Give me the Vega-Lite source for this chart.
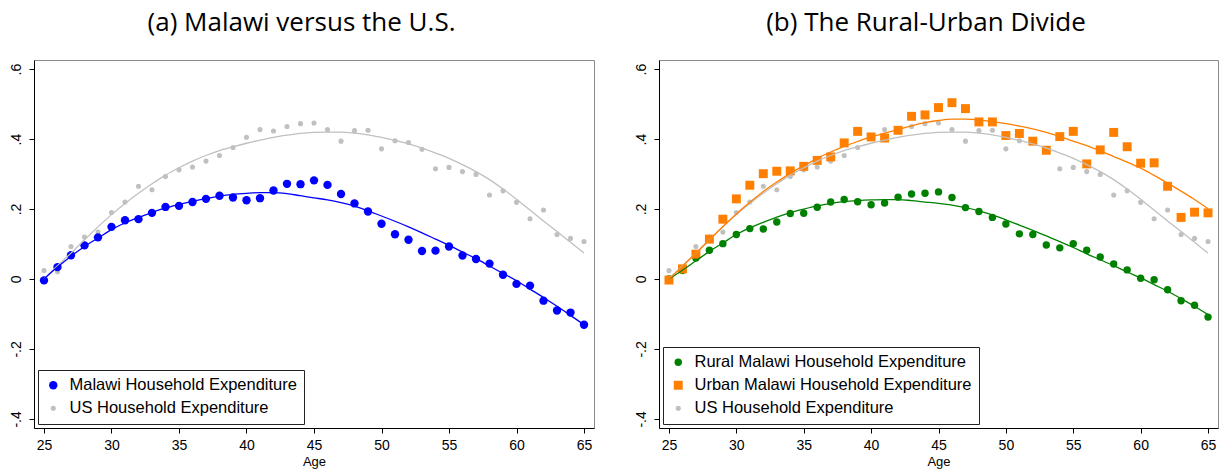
{
  "$schema": "https://vega.github.io/schema/vega-lite/v6.json",
  "description": "Age profiles of household expenditure: Malawi versus the U.S., and rural versus urban Malawi.",
  "background": "white",
  "padding": {"left": 8, "top": 9, "right": 5, "bottom": 2},
  "spacing": 38,
  "datasets": {
    "points": [
      {"age": 25, "series": "US", "value": 0.024}, {"age": 26, "series": "US", "value": 0.021}, {"age": 27, "series": "US", "value": 0.093},
      {"age": 28, "series": "US", "value": 0.12}, {"age": 29, "series": "US", "value": 0.134}, {"age": 30, "series": "US", "value": 0.19},
      {"age": 31, "series": "US", "value": 0.22}, {"age": 32, "series": "US", "value": 0.265}, {"age": 33, "series": "US", "value": 0.255},
      {"age": 34, "series": "US", "value": 0.293}, {"age": 35, "series": "US", "value": 0.312}, {"age": 36, "series": "US", "value": 0.32},
      {"age": 37, "series": "US", "value": 0.337}, {"age": 38, "series": "US", "value": 0.353}, {"age": 39, "series": "US", "value": 0.376},
      {"age": 40, "series": "US", "value": 0.405}, {"age": 41, "series": "US", "value": 0.427}, {"age": 42, "series": "US", "value": 0.423},
      {"age": 43, "series": "US", "value": 0.436}, {"age": 44, "series": "US", "value": 0.444}, {"age": 45, "series": "US", "value": 0.446},
      {"age": 46, "series": "US", "value": 0.427}, {"age": 47, "series": "US", "value": 0.394}, {"age": 48, "series": "US", "value": 0.424},
      {"age": 49, "series": "US", "value": 0.425}, {"age": 50, "series": "US", "value": 0.372}, {"age": 51, "series": "US", "value": 0.395},
      {"age": 52, "series": "US", "value": 0.39}, {"age": 53, "series": "US", "value": 0.371}, {"age": 54, "series": "US", "value": 0.315},
      {"age": 55, "series": "US", "value": 0.319}, {"age": 56, "series": "US", "value": 0.307}, {"age": 57, "series": "US", "value": 0.299},
      {"age": 58, "series": "US", "value": 0.24}, {"age": 59, "series": "US", "value": 0.252}, {"age": 60, "series": "US", "value": 0.219},
      {"age": 61, "series": "US", "value": 0.172}, {"age": 62, "series": "US", "value": 0.197}, {"age": 63, "series": "US", "value": 0.127},
      {"age": 64, "series": "US", "value": 0.116}, {"age": 65, "series": "US", "value": 0.107},

      {"age": 25, "series": "Malawi", "value": -0.004}, {"age": 26, "series": "Malawi", "value": 0.034}, {"age": 27, "series": "Malawi", "value": 0.068},
      {"age": 28, "series": "Malawi", "value": 0.096}, {"age": 29, "series": "Malawi", "value": 0.119}, {"age": 30, "series": "Malawi", "value": 0.149},
      {"age": 31, "series": "Malawi", "value": 0.168}, {"age": 32, "series": "Malawi", "value": 0.171}, {"age": 33, "series": "Malawi", "value": 0.189},
      {"age": 34, "series": "Malawi", "value": 0.206}, {"age": 35, "series": "Malawi", "value": 0.209}, {"age": 36, "series": "Malawi", "value": 0.22},
      {"age": 37, "series": "Malawi", "value": 0.229}, {"age": 38, "series": "Malawi", "value": 0.238}, {"age": 39, "series": "Malawi", "value": 0.233},
      {"age": 40, "series": "Malawi", "value": 0.225}, {"age": 41, "series": "Malawi", "value": 0.231}, {"age": 42, "series": "Malawi", "value": 0.253},
      {"age": 43, "series": "Malawi", "value": 0.272}, {"age": 44, "series": "Malawi", "value": 0.271}, {"age": 45, "series": "Malawi", "value": 0.282},
      {"age": 46, "series": "Malawi", "value": 0.269}, {"age": 47, "series": "Malawi", "value": 0.243}, {"age": 48, "series": "Malawi", "value": 0.216},
      {"age": 49, "series": "Malawi", "value": 0.193}, {"age": 50, "series": "Malawi", "value": 0.158}, {"age": 51, "series": "Malawi", "value": 0.128},
      {"age": 52, "series": "Malawi", "value": 0.112}, {"age": 53, "series": "Malawi", "value": 0.08}, {"age": 54, "series": "Malawi", "value": 0.081},
      {"age": 55, "series": "Malawi", "value": 0.093}, {"age": 56, "series": "Malawi", "value": 0.067}, {"age": 57, "series": "Malawi", "value": 0.057},
      {"age": 58, "series": "Malawi", "value": 0.044}, {"age": 59, "series": "Malawi", "value": 0.012}, {"age": 60, "series": "Malawi", "value": -0.014},
      {"age": 61, "series": "Malawi", "value": -0.019}, {"age": 62, "series": "Malawi", "value": -0.062}, {"age": 63, "series": "Malawi", "value": -0.09},
      {"age": 64, "series": "Malawi", "value": -0.096}, {"age": 65, "series": "Malawi", "value": -0.131},

      {"age": 25, "series": "Rural", "value": 0.0}, {"age": 26, "series": "Rural", "value": 0.025}, {"age": 27, "series": "Rural", "value": 0.06},
      {"age": 28, "series": "Rural", "value": 0.082}, {"age": 29, "series": "Rural", "value": 0.101}, {"age": 30, "series": "Rural", "value": 0.127},
      {"age": 31, "series": "Rural", "value": 0.144}, {"age": 32, "series": "Rural", "value": 0.143}, {"age": 33, "series": "Rural", "value": 0.163},
      {"age": 34, "series": "Rural", "value": 0.187}, {"age": 35, "series": "Rural", "value": 0.188}, {"age": 36, "series": "Rural", "value": 0.205},
      {"age": 37, "series": "Rural", "value": 0.22}, {"age": 38, "series": "Rural", "value": 0.227}, {"age": 39, "series": "Rural", "value": 0.221},
      {"age": 40, "series": "Rural", "value": 0.212}, {"age": 41, "series": "Rural", "value": 0.217}, {"age": 42, "series": "Rural", "value": 0.234},
      {"age": 43, "series": "Rural", "value": 0.243}, {"age": 44, "series": "Rural", "value": 0.245}, {"age": 45, "series": "Rural", "value": 0.249},
      {"age": 46, "series": "Rural", "value": 0.233}, {"age": 47, "series": "Rural", "value": 0.204}, {"age": 48, "series": "Rural", "value": 0.193},
      {"age": 49, "series": "Rural", "value": 0.176}, {"age": 50, "series": "Rural", "value": 0.157}, {"age": 51, "series": "Rural", "value": 0.129},
      {"age": 52, "series": "Rural", "value": 0.127}, {"age": 53, "series": "Rural", "value": 0.097}, {"age": 54, "series": "Rural", "value": 0.089},
      {"age": 55, "series": "Rural", "value": 0.101}, {"age": 56, "series": "Rural", "value": 0.082}, {"age": 57, "series": "Rural", "value": 0.063},
      {"age": 58, "series": "Rural", "value": 0.043}, {"age": 59, "series": "Rural", "value": 0.026}, {"age": 60, "series": "Rural", "value": 0.002},
      {"age": 61, "series": "Rural", "value": -0.002}, {"age": 62, "series": "Rural", "value": -0.031}, {"age": 63, "series": "Rural", "value": -0.062},
      {"age": 64, "series": "Rural", "value": -0.075}, {"age": 65, "series": "Rural", "value": -0.109},

      {"age": 25, "series": "Urban", "value": -0.003}, {"age": 26, "series": "Urban", "value": 0.029}, {"age": 27, "series": "Urban", "value": 0.071},
      {"age": 28, "series": "Urban", "value": 0.114}, {"age": 29, "series": "Urban", "value": 0.171}, {"age": 30, "series": "Urban", "value": 0.229},
      {"age": 31, "series": "Urban", "value": 0.268}, {"age": 32, "series": "Urban", "value": 0.301}, {"age": 33, "series": "Urban", "value": 0.308},
      {"age": 34, "series": "Urban", "value": 0.309}, {"age": 35, "series": "Urban", "value": 0.322}, {"age": 36, "series": "Urban", "value": 0.339},
      {"age": 37, "series": "Urban", "value": 0.349}, {"age": 38, "series": "Urban", "value": 0.389}, {"age": 39, "series": "Urban", "value": 0.422},
      {"age": 40, "series": "Urban", "value": 0.406}, {"age": 41, "series": "Urban", "value": 0.403}, {"age": 42, "series": "Urban", "value": 0.425},
      {"age": 43, "series": "Urban", "value": 0.465}, {"age": 44, "series": "Urban", "value": 0.469}, {"age": 45, "series": "Urban", "value": 0.49},
      {"age": 46, "series": "Urban", "value": 0.504}, {"age": 47, "series": "Urban", "value": 0.487}, {"age": 48, "series": "Urban", "value": 0.449},
      {"age": 49, "series": "Urban", "value": 0.449}, {"age": 50, "series": "Urban", "value": 0.41}, {"age": 51, "series": "Urban", "value": 0.416},
      {"age": 52, "series": "Urban", "value": 0.394}, {"age": 53, "series": "Urban", "value": 0.368}, {"age": 54, "series": "Urban", "value": 0.407},
      {"age": 55, "series": "Urban", "value": 0.422}, {"age": 56, "series": "Urban", "value": 0.329}, {"age": 57, "series": "Urban", "value": 0.369},
      {"age": 58, "series": "Urban", "value": 0.419}, {"age": 59, "series": "Urban", "value": 0.378}, {"age": 60, "series": "Urban", "value": 0.331},
      {"age": 61, "series": "Urban", "value": 0.332}, {"age": 62, "series": "Urban", "value": 0.265}, {"age": 63, "series": "Urban", "value": 0.176},
      {"age": 64, "series": "Urban", "value": 0.191}, {"age": 65, "series": "Urban", "value": 0.189}
    ],
    "fits": [
      {"age": 25, "series": "US", "value": 0.0}, {"age": 26, "series": "US", "value": 0.038}, {"age": 27, "series": "US", "value": 0.074},
      {"age": 28, "series": "US", "value": 0.112}, {"age": 29, "series": "US", "value": 0.149}, {"age": 30, "series": "US", "value": 0.184},
      {"age": 31, "series": "US", "value": 0.216}, {"age": 32, "series": "US", "value": 0.245}, {"age": 33, "series": "US", "value": 0.272},
      {"age": 34, "series": "US", "value": 0.297}, {"age": 35, "series": "US", "value": 0.318}, {"age": 36, "series": "US", "value": 0.337},
      {"age": 37, "series": "US", "value": 0.353}, {"age": 38, "series": "US", "value": 0.367}, {"age": 39, "series": "US", "value": 0.378},
      {"age": 40, "series": "US", "value": 0.388}, {"age": 41, "series": "US", "value": 0.397}, {"age": 42, "series": "US", "value": 0.405},
      {"age": 43, "series": "US", "value": 0.411}, {"age": 44, "series": "US", "value": 0.416}, {"age": 45, "series": "US", "value": 0.419},
      {"age": 46, "series": "US", "value": 0.42}, {"age": 47, "series": "US", "value": 0.42}, {"age": 48, "series": "US", "value": 0.417},
      {"age": 49, "series": "US", "value": 0.412}, {"age": 50, "series": "US", "value": 0.405}, {"age": 51, "series": "US", "value": 0.396},
      {"age": 52, "series": "US", "value": 0.386}, {"age": 53, "series": "US", "value": 0.374}, {"age": 54, "series": "US", "value": 0.36},
      {"age": 55, "series": "US", "value": 0.345}, {"age": 56, "series": "US", "value": 0.327}, {"age": 57, "series": "US", "value": 0.307},
      {"age": 58, "series": "US", "value": 0.284}, {"age": 59, "series": "US", "value": 0.257}, {"age": 60, "series": "US", "value": 0.228},
      {"age": 61, "series": "US", "value": 0.197}, {"age": 62, "series": "US", "value": 0.166}, {"age": 63, "series": "US", "value": 0.136},
      {"age": 64, "series": "US", "value": 0.105}, {"age": 65, "series": "US", "value": 0.074},

      {"age": 25, "series": "Malawi", "value": 0.0}, {"age": 26, "series": "Malawi", "value": 0.034}, {"age": 27, "series": "Malawi", "value": 0.065},
      {"age": 28, "series": "Malawi", "value": 0.093}, {"age": 29, "series": "Malawi", "value": 0.117}, {"age": 30, "series": "Malawi", "value": 0.141},
      {"age": 31, "series": "Malawi", "value": 0.16}, {"age": 32, "series": "Malawi", "value": 0.176}, {"age": 33, "series": "Malawi", "value": 0.19},
      {"age": 34, "series": "Malawi", "value": 0.203}, {"age": 35, "series": "Malawi", "value": 0.213}, {"age": 36, "series": "Malawi", "value": 0.222},
      {"age": 37, "series": "Malawi", "value": 0.23}, {"age": 38, "series": "Malawi", "value": 0.237}, {"age": 39, "series": "Malawi", "value": 0.242},
      {"age": 40, "series": "Malawi", "value": 0.245}, {"age": 41, "series": "Malawi", "value": 0.247}, {"age": 42, "series": "Malawi", "value": 0.247},
      {"age": 43, "series": "Malawi", "value": 0.244}, {"age": 44, "series": "Malawi", "value": 0.238}, {"age": 45, "series": "Malawi", "value": 0.232},
      {"age": 46, "series": "Malawi", "value": 0.226}, {"age": 47, "series": "Malawi", "value": 0.218}, {"age": 48, "series": "Malawi", "value": 0.208},
      {"age": 49, "series": "Malawi", "value": 0.195}, {"age": 50, "series": "Malawi", "value": 0.18}, {"age": 51, "series": "Malawi", "value": 0.165},
      {"age": 52, "series": "Malawi", "value": 0.149}, {"age": 53, "series": "Malawi", "value": 0.132}, {"age": 54, "series": "Malawi", "value": 0.114},
      {"age": 55, "series": "Malawi", "value": 0.096}, {"age": 56, "series": "Malawi", "value": 0.077}, {"age": 57, "series": "Malawi", "value": 0.058},
      {"age": 58, "series": "Malawi", "value": 0.037}, {"age": 59, "series": "Malawi", "value": 0.016}, {"age": 60, "series": "Malawi", "value": -0.005},
      {"age": 61, "series": "Malawi", "value": -0.029}, {"age": 62, "series": "Malawi", "value": -0.053}, {"age": 63, "series": "Malawi", "value": -0.078},
      {"age": 64, "series": "Malawi", "value": -0.104}, {"age": 65, "series": "Malawi", "value": -0.131},

      {"age": 25, "series": "Rural", "value": 0.0}, {"age": 26, "series": "Rural", "value": 0.025}, {"age": 27, "series": "Rural", "value": 0.052},
      {"age": 28, "series": "Rural", "value": 0.079}, {"age": 29, "series": "Rural", "value": 0.103}, {"age": 30, "series": "Rural", "value": 0.127},
      {"age": 31, "series": "Rural", "value": 0.146}, {"age": 32, "series": "Rural", "value": 0.162}, {"age": 33, "series": "Rural", "value": 0.177},
      {"age": 34, "series": "Rural", "value": 0.19}, {"age": 35, "series": "Rural", "value": 0.2}, {"age": 36, "series": "Rural", "value": 0.209},
      {"age": 37, "series": "Rural", "value": 0.216}, {"age": 38, "series": "Rural", "value": 0.221}, {"age": 39, "series": "Rural", "value": 0.224},
      {"age": 40, "series": "Rural", "value": 0.226}, {"age": 41, "series": "Rural", "value": 0.227}, {"age": 42, "series": "Rural", "value": 0.227},
      {"age": 43, "series": "Rural", "value": 0.224}, {"age": 44, "series": "Rural", "value": 0.22}, {"age": 45, "series": "Rural", "value": 0.216},
      {"age": 46, "series": "Rural", "value": 0.211}, {"age": 47, "series": "Rural", "value": 0.204}, {"age": 48, "series": "Rural", "value": 0.195},
      {"age": 49, "series": "Rural", "value": 0.183}, {"age": 50, "series": "Rural", "value": 0.169}, {"age": 51, "series": "Rural", "value": 0.154},
      {"age": 52, "series": "Rural", "value": 0.139}, {"age": 53, "series": "Rural", "value": 0.123}, {"age": 54, "series": "Rural", "value": 0.107},
      {"age": 55, "series": "Rural", "value": 0.09}, {"age": 56, "series": "Rural", "value": 0.072}, {"age": 57, "series": "Rural", "value": 0.055},
      {"age": 58, "series": "Rural", "value": 0.038}, {"age": 59, "series": "Rural", "value": 0.02}, {"age": 60, "series": "Rural", "value": 0.003},
      {"age": 61, "series": "Rural", "value": -0.016}, {"age": 62, "series": "Rural", "value": -0.035}, {"age": 63, "series": "Rural", "value": -0.056},
      {"age": 64, "series": "Rural", "value": -0.078}, {"age": 65, "series": "Rural", "value": -0.102},

      {"age": 25, "series": "Urban", "value": 0.0}, {"age": 26, "series": "Urban", "value": 0.036}, {"age": 27, "series": "Urban", "value": 0.074},
      {"age": 28, "series": "Urban", "value": 0.112}, {"age": 29, "series": "Urban", "value": 0.15}, {"age": 30, "series": "Urban", "value": 0.186},
      {"age": 31, "series": "Urban", "value": 0.219}, {"age": 32, "series": "Urban", "value": 0.25}, {"age": 33, "series": "Urban", "value": 0.277},
      {"age": 34, "series": "Urban", "value": 0.302}, {"age": 35, "series": "Urban", "value": 0.324}, {"age": 36, "series": "Urban", "value": 0.345},
      {"age": 37, "series": "Urban", "value": 0.363}, {"age": 38, "series": "Urban", "value": 0.379}, {"age": 39, "series": "Urban", "value": 0.393},
      {"age": 40, "series": "Urban", "value": 0.406}, {"age": 41, "series": "Urban", "value": 0.417}, {"age": 42, "series": "Urban", "value": 0.427},
      {"age": 43, "series": "Urban", "value": 0.438}, {"age": 44, "series": "Urban", "value": 0.447}, {"age": 45, "series": "Urban", "value": 0.453},
      {"age": 46, "series": "Urban", "value": 0.457}, {"age": 47, "series": "Urban", "value": 0.457}, {"age": 48, "series": "Urban", "value": 0.455},
      {"age": 49, "series": "Urban", "value": 0.45}, {"age": 50, "series": "Urban", "value": 0.444}, {"age": 51, "series": "Urban", "value": 0.437},
      {"age": 52, "series": "Urban", "value": 0.429}, {"age": 53, "series": "Urban", "value": 0.419}, {"age": 54, "series": "Urban", "value": 0.407},
      {"age": 55, "series": "Urban", "value": 0.394}, {"age": 56, "series": "Urban", "value": 0.381}, {"age": 57, "series": "Urban", "value": 0.366},
      {"age": 58, "series": "Urban", "value": 0.35}, {"age": 59, "series": "Urban", "value": 0.334}, {"age": 60, "series": "Urban", "value": 0.317},
      {"age": 61, "series": "Urban", "value": 0.296}, {"age": 62, "series": "Urban", "value": 0.274}, {"age": 63, "series": "Urban", "value": 0.251},
      {"age": 64, "series": "Urban", "value": 0.227}, {"age": 65, "series": "Urban", "value": 0.201}
    ]
  },
  "hconcat": [
    {
      "title": "(a) Malawi versus the U.S.",
      "width": 560,
      "height": 368,
      "encoding": {
        "x": {"field": "age", "type": "quantitative", "title": "Age",
              "scale": {"domain": [24.26, 65.74], "nice": false, "zero": false},
              "axis": {"values": [25, 30, 35, 40, 45, 50, 55, 60, 65]}},
        "y": {"field": "value", "type": "quantitative", "title": null,
              "scale": {"domain": [-0.426, 0.626], "nice": false, "zero": false},
              "axis": {"values": [-0.4, -0.2, 0, 0.2, 0.4, 0.6]}}
      },
      "layer": [
        {
          "data": {"name": "points"},
          "transform": [{"filter": "datum.series == 'US' || datum.series == 'Malawi'"}],
          "mark": {"type": "point", "filled": true, "opacity": 1, "strokeWidth": 0},
          "encoding": {
            "color": {"field": "series", "type": "nominal",
                      "scale": {"domain": ["Malawi", "US"], "range": ["#0000ff", "#c0c0c0"]},
                      "legend": {"orient": "bottom-left", "labelExpr": "datum.label + ' Household Expenditure'"}},
            "size": {"field": "series", "type": "nominal",
                     "scale": {"type": "ordinal", "domain": ["Malawi", "US"], "range": [70, 26]},
                     "legend": {"orient": "bottom-left", "labelExpr": "datum.label + ' Household Expenditure'"}}
          }
        },
        {
          "data": {"name": "fits"},
          "transform": [{"filter": "datum.series == 'US' || datum.series == 'Malawi'"}],
          "mark": {"type": "line", "strokeWidth": 1.3, "interpolate": "monotone"},
          "encoding": {
            "stroke": {"field": "series", "type": "nominal", "legend": null,
                       "scale": {"domain": ["Malawi", "US"], "range": ["#0000ff", "#c0c0c0"]}}
          }
        },
        {
          "data": {"values": [{}]},
          "mark": {"type": "rule", "color": "black", "strokeWidth": 1.2},
          "encoding": {"y": {"datum": 0}}
        }
      ]
    },
    {
      "title": "(b) The Rural-Urban Divide",
      "width": 559,
      "height": 368,
      "encoding": {
        "x": {"field": "age", "type": "quantitative", "title": "Age",
              "scale": {"domain": [24.26, 65.74], "nice": false, "zero": false},
              "axis": {"values": [25, 30, 35, 40, 45, 50, 55, 60, 65]}},
        "y": {"field": "value", "type": "quantitative", "title": null,
              "scale": {"domain": [-0.426, 0.626], "nice": false, "zero": false},
              "axis": {"values": [-0.4, -0.2, 0, 0.2, 0.4, 0.6]}}
      },
      "layer": [
        {
          "data": {"name": "points"},
          "transform": [{"filter": "datum.series == 'US' || datum.series == 'Rural' || datum.series == 'Urban'"}],
          "mark": {"type": "point", "filled": true, "opacity": 1, "strokeWidth": 0},
          "encoding": {
            "color": {"field": "series", "type": "nominal",
                      "scale": {"domain": ["Rural", "Urban", "US"], "range": ["#008000", "#ff7f00", "#c0c0c0"]},
                      "legend": {"orient": "bottom-left", "labelExpr": "datum.label == 'US' ? 'US Household Expenditure' : datum.label + ' Malawi Household Expenditure'"}},
            "shape": {"field": "series", "type": "nominal",
                      "scale": {"domain": ["Rural", "Urban", "US"], "range": ["circle", "square", "circle"]},
                      "legend": {"orient": "bottom-left", "labelExpr": "datum.label == 'US' ? 'US Household Expenditure' : datum.label + ' Malawi Household Expenditure'"}},
            "size": {"field": "series", "type": "nominal",
                     "scale": {"type": "ordinal", "domain": ["Rural", "Urban", "US"], "range": [55, 80, 26]},
                     "legend": {"orient": "bottom-left", "labelExpr": "datum.label == 'US' ? 'US Household Expenditure' : datum.label + ' Malawi Household Expenditure'"}}
          }
        },
        {
          "data": {"name": "fits"},
          "transform": [{"filter": "datum.series == 'US' || datum.series == 'Rural' || datum.series == 'Urban'"}],
          "mark": {"type": "line", "strokeWidth": 1.3, "interpolate": "monotone"},
          "encoding": {
            "stroke": {"field": "series", "type": "nominal", "legend": null,
                       "scale": {"domain": ["Rural", "Urban", "US"], "range": ["#008000", "#ff7f00", "#c0c0c0"]}}
          }
        },
        {
          "data": {"values": [{}]},
          "mark": {"type": "rule", "color": "black", "strokeWidth": 1.2},
          "encoding": {"y": {"datum": 0}}
        }
      ]
    }
  ],
  "resolve": {
    "scale": {"color": "independent", "shape": "independent", "size": "independent", "stroke": "independent"}
  },
  "config": {
    "view": {"stroke": "#8a8a8a", "strokeWidth": 1},
    "title": {"font": "Open Sans", "fontSize": 26, "fontWeight": "normal", "color": "black", "anchor": "middle", "frame": "bounds", "offset": 24},
    "axis": {
      "grid": false, "domainColor": "black", "domainWidth": 1, "tickColor": "black", "tickSize": 5,
      "labelFont": "Liberation Sans", "labelFontSize": 14, "labelColor": "black",
      "titleFont": "Liberation Sans", "titleFontWeight": "normal", "titleColor": "black"
    },
    "axisX": {"labelPadding": 5, "titleFontSize": 13, "titlePadding": 3},
    "axisY": {
      "labelAngle": -90, "labelAlign": "center", "labelBaseline": "bottom", "labelPadding": 6,
      "labelExpr": "datum.value == 0 ? '0' : (datum.value < 0 ? '-' : '') + replace(format(abs(datum.value), '.1f'), '0.', '.')"
    },
    "legend": {
      "orient": "bottom-left", "title": null, "offset": 4, "padding": 7, "rowPadding": 6,
      "strokeColor": "#222222", "fillColor": "white",
      "labelFont": "Liberation Sans", "labelFontSize": 16.5, "labelColor": "black", "labelOffset": 8, "labelLimit": 400,
      "symbolStrokeWidth": 0
    }
  }
}
